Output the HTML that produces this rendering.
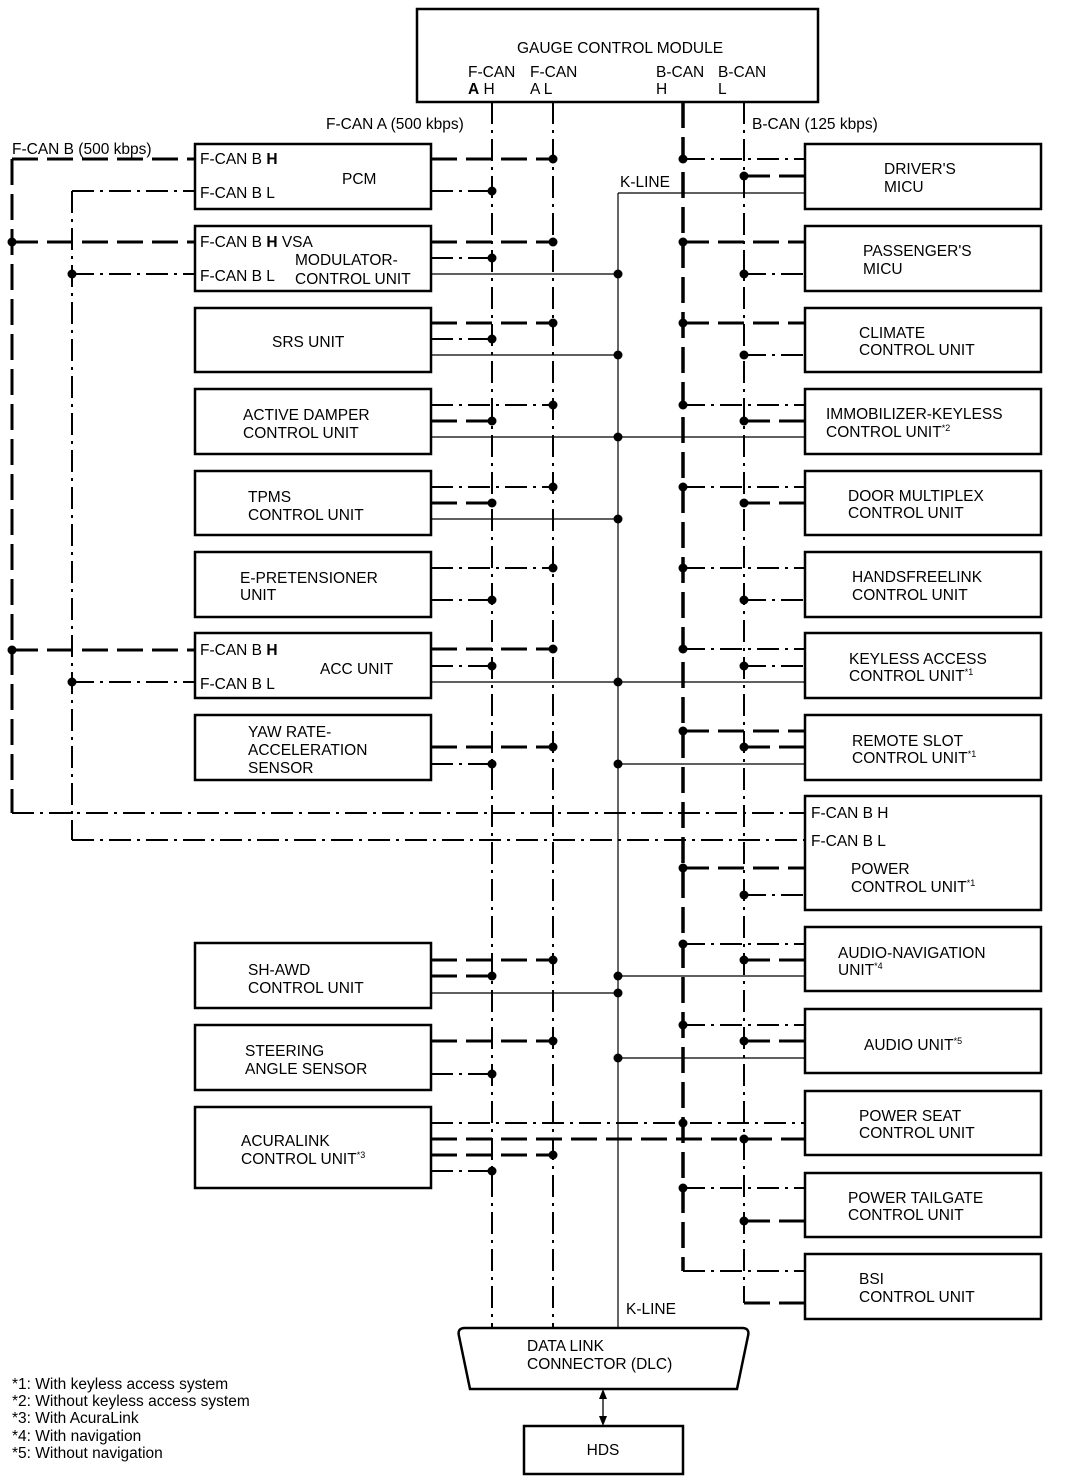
<!DOCTYPE html>
<html><head><meta charset="utf-8"><style>
html,body{margin:0;padding:0;background:#fff}
svg{display:block}
text{font-family:"Liberation Sans",sans-serif;font-size:15.5px;fill:#000}
.b{fill:none;stroke:#000;stroke-width:2.5}
.h{stroke:#000;stroke-width:3;stroke-dasharray:26 9;fill:none}
.l{stroke:#000;stroke-width:2;stroke-dasharray:22 6 3 6;fill:none}
.k{stroke:#000;stroke-width:1.2;fill:none}
</style></head><body>
<svg width="1072" height="1482" viewBox="0 0 1072 1482" xmlns="http://www.w3.org/2000/svg">
<!-- Gauge control module -->
<rect class="b" x="417" y="9" width="401" height="93"/>
<text x="620" y="53" text-anchor="middle">GAUGE CONTROL MODULE</text>
<text x="468" y="77">F-CAN</text><text x="468" y="94"><tspan font-weight="bold">A</tspan> H</text>
<text x="530" y="77">F-CAN</text><text x="530" y="94">A L</text>
<text x="656" y="77">B-CAN</text><text x="656" y="94">H</text>
<text x="718" y="77">B-CAN</text><text x="718" y="94">L</text>
<text x="326" y="129">F-CAN A (500 kbps)</text>
<text x="752" y="129">B-CAN (125 kbps)</text>
<text x="12" y="154">F-CAN B (500 kbps)</text>
<text x="620" y="187">K-LINE</text>
<text x="626" y="1314">K-LINE</text>

<!-- vertical buses -->
<line class="l" x1="492" y1="102" x2="492" y2="1328"/>
<line class="l" x1="553" y1="102" x2="553" y2="1328"/>
<line class="h" x1="683" y1="102" x2="683" y2="1271" style="stroke-width:3.5"/>
<line class="l" x1="744" y1="102" x2="744" y2="1303"/>
<line class="k" x1="618" y1="193" x2="618" y2="1328"/>
<line class="h" x1="12" y1="159" x2="12" y2="813"/>
<line class="l" x1="72" y1="191" x2="72" y2="840"/>

<!-- F-CAN B lines -->
<line class="h" x1="12" y1="159" x2="195" y2="159"/>
<line class="l" x1="72" y1="191" x2="195" y2="191"/>
<line class="h" x1="12" y1="242" x2="195" y2="242"/>
<line class="l" x1="72" y1="274" x2="195" y2="274"/>
<line class="h" x1="12" y1="650" x2="195" y2="650"/>
<line class="l" x1="72" y1="682" x2="195" y2="682"/>
<line class="l" x1="12" y1="813" x2="805" y2="813"/>
<line class="l" x1="72" y1="840" x2="805" y2="840"/>

<!-- left horizontals -->
<g>
<line class="h" x1="431" y1="159" x2="553" y2="159"/>
<line class="l" x1="431" y1="191" x2="492" y2="191"/>
<line class="h" x1="431" y1="242" x2="553" y2="242"/>
<line class="l" x1="431" y1="258" x2="492" y2="258"/>
<line class="k" x1="431" y1="274" x2="618" y2="274"/>
<line class="h" x1="431" y1="323" x2="553" y2="323"/>
<line class="l" x1="431" y1="339" x2="492" y2="339"/>
<line class="k" x1="431" y1="355" x2="618" y2="355"/>
<line class="l" x1="431" y1="405" x2="553" y2="405"/>
<line class="h" x1="431" y1="421" x2="492" y2="421"/>
<line class="k" x1="431" y1="437" x2="805" y2="437"/>
<line class="l" x1="431" y1="487" x2="553" y2="487"/>
<line class="h" x1="431" y1="503" x2="492" y2="503"/>
<line class="k" x1="431" y1="519" x2="618" y2="519"/>
<line class="l" x1="431" y1="568" x2="553" y2="568"/>
<line class="l" x1="431" y1="600" x2="492" y2="600"/>
<line class="h" x1="431" y1="649" x2="553" y2="649"/>
<line class="l" x1="431" y1="666" x2="492" y2="666"/>
<line class="k" x1="431" y1="682" x2="805" y2="682"/>
<line class="h" x1="431" y1="747" x2="553" y2="747"/>
<line class="l" x1="431" y1="764" x2="492" y2="764"/>
<line class="h" x1="431" y1="960" x2="553" y2="960"/>
<line class="h" x1="431" y1="976" x2="492" y2="976"/>
<line class="k" x1="431" y1="993" x2="618" y2="993"/>
<line class="h" x1="431" y1="1041" x2="553" y2="1041"/>
<line class="l" x1="431" y1="1074" x2="492" y2="1074"/>
<line class="l" x1="431" y1="1123" x2="805" y2="1123"/>
<line class="h" x1="431" y1="1139" x2="805" y2="1139"/>
<line class="h" x1="431" y1="1155" x2="553" y2="1155"/>
<line class="l" x1="431" y1="1171" x2="492" y2="1171"/>
</g>
<!-- right horizontals -->
<g>
<line class="l" x1="683" y1="159" x2="805" y2="159"/>
<line class="h" x1="744" y1="176" x2="805" y2="176"/>
<line class="k" x1="618" y1="193" x2="805" y2="193"/>
<line class="h" x1="683" y1="242" x2="805" y2="242"/>
<line class="l" x1="744" y1="274" x2="805" y2="274"/>
<line class="h" x1="683" y1="323" x2="805" y2="323"/>
<line class="l" x1="744" y1="355" x2="805" y2="355"/>
<line class="l" x1="683" y1="405" x2="805" y2="405"/>
<line class="h" x1="744" y1="421" x2="805" y2="421"/>
<line class="l" x1="683" y1="487" x2="805" y2="487"/>
<line class="h" x1="744" y1="503" x2="805" y2="503"/>
<line class="l" x1="683" y1="568" x2="805" y2="568"/>
<line class="l" x1="744" y1="600" x2="805" y2="600"/>
<line class="l" x1="683" y1="649" x2="805" y2="649"/>
<line class="l" x1="744" y1="666" x2="805" y2="666"/>
<line class="h" x1="683" y1="731" x2="805" y2="731"/>
<line class="h" x1="744" y1="747" x2="805" y2="747"/>
<line class="k" x1="618" y1="764" x2="805" y2="764"/>
<line class="h" x1="683" y1="868" x2="805" y2="868"/>
<line class="l" x1="744" y1="895" x2="805" y2="895"/>
<line class="l" x1="683" y1="944" x2="805" y2="944"/>
<line class="h" x1="744" y1="960" x2="805" y2="960"/>
<line class="k" x1="618" y1="976" x2="805" y2="976"/>
<line class="l" x1="683" y1="1025" x2="805" y2="1025"/>
<line class="h" x1="744" y1="1041" x2="805" y2="1041"/>
<line class="k" x1="618" y1="1058" x2="805" y2="1058"/>
<line class="l" x1="683" y1="1188" x2="805" y2="1188"/>
<line class="h" x1="744" y1="1221" x2="805" y2="1221"/>
<line class="l" x1="683" y1="1271" x2="805" y2="1271"/>
<line class="h" x1="744" y1="1303" x2="805" y2="1303"/>
</g>
<!-- dots -->
<g fill="#000">
<circle cx="12" cy="242" r="4.5"/><circle cx="12" cy="650" r="4.5"/>
<circle cx="72" cy="274" r="4.5"/><circle cx="72" cy="682" r="4.5"/>
<circle cx="553" cy="159" r="4.5"/><circle cx="492" cy="191" r="4.5"/>
<circle cx="553" cy="242" r="4.5"/><circle cx="492" cy="258" r="4.5"/><circle cx="618" cy="274" r="4.5"/>
<circle cx="553" cy="323" r="4.5"/><circle cx="492" cy="339" r="4.5"/><circle cx="618" cy="355" r="4.5"/>
<circle cx="553" cy="405" r="4.5"/><circle cx="492" cy="421" r="4.5"/><circle cx="618" cy="437" r="4.5"/>
<circle cx="553" cy="487" r="4.5"/><circle cx="492" cy="503" r="4.5"/><circle cx="618" cy="519" r="4.5"/>
<circle cx="553" cy="568" r="4.5"/><circle cx="492" cy="600" r="4.5"/>
<circle cx="553" cy="649" r="4.5"/><circle cx="492" cy="666" r="4.5"/><circle cx="618" cy="682" r="4.5"/>
<circle cx="553" cy="747" r="4.5"/><circle cx="492" cy="764" r="4.5"/><circle cx="618" cy="764" r="4.5"/>
<circle cx="553" cy="960" r="4.5"/><circle cx="492" cy="976" r="4.5"/><circle cx="618" cy="993" r="4.5"/><circle cx="618" cy="976" r="4.5"/>
<circle cx="553" cy="1041" r="4.5"/><circle cx="492" cy="1074" r="4.5"/><circle cx="618" cy="1058" r="4.5"/>
<circle cx="683" cy="1123" r="4.5"/><circle cx="744" cy="1139" r="4.5"/><circle cx="553" cy="1155" r="4.5"/><circle cx="492" cy="1171" r="4.5"/>
<circle cx="683" cy="159" r="4.5"/><circle cx="744" cy="176" r="4.5"/>
<circle cx="683" cy="242" r="4.5"/><circle cx="744" cy="274" r="4.5"/>
<circle cx="683" cy="323" r="4.5"/><circle cx="744" cy="355" r="4.5"/>
<circle cx="683" cy="405" r="4.5"/><circle cx="744" cy="421" r="4.5"/>
<circle cx="683" cy="487" r="4.5"/><circle cx="744" cy="503" r="4.5"/>
<circle cx="683" cy="568" r="4.5"/><circle cx="744" cy="600" r="4.5"/>
<circle cx="683" cy="649" r="4.5"/><circle cx="744" cy="666" r="4.5"/>
<circle cx="683" cy="731" r="4.5"/><circle cx="744" cy="747" r="4.5"/>
<circle cx="683" cy="868" r="4.5"/><circle cx="744" cy="895" r="4.5"/>
<circle cx="683" cy="944" r="4.5"/><circle cx="744" cy="960" r="4.5"/>
<circle cx="683" cy="1025" r="4.5"/><circle cx="744" cy="1041" r="4.5"/>
<circle cx="683" cy="1188" r="4.5"/><circle cx="744" cy="1221" r="4.5"/>
</g>

<!-- left boxes -->
<g fill="#fff">
<rect class="b" x="195" y="144" width="236" height="65" fill="#fff"/>
<rect class="b" x="195" y="226" width="236" height="65" fill="#fff"/>
<rect class="b" x="195" y="308" width="236" height="64" fill="#fff"/>
<rect class="b" x="195" y="389" width="236" height="65" fill="#fff"/>
<rect class="b" x="195" y="471" width="236" height="64" fill="#fff"/>
<rect class="b" x="195" y="552" width="236" height="65" fill="#fff"/>
<rect class="b" x="195" y="633" width="236" height="65" fill="#fff"/>
<rect class="b" x="195" y="715" width="236" height="65" fill="#fff"/>
<rect class="b" x="195" y="943" width="236" height="65" fill="#fff"/>
<rect class="b" x="195" y="1025" width="236" height="65" fill="#fff"/>
<rect class="b" x="195" y="1107" width="236" height="81" fill="#fff"/>
<!-- right boxes -->
<rect class="b" x="805" y="144" width="236" height="65" fill="#fff"/>
<rect class="b" x="805" y="226" width="236" height="65" fill="#fff"/>
<rect class="b" x="805" y="308" width="236" height="64" fill="#fff"/>
<rect class="b" x="805" y="389" width="236" height="65" fill="#fff"/>
<rect class="b" x="805" y="471" width="236" height="64" fill="#fff"/>
<rect class="b" x="805" y="552" width="236" height="65" fill="#fff"/>
<rect class="b" x="805" y="633" width="236" height="65" fill="#fff"/>
<rect class="b" x="805" y="715" width="236" height="65" fill="#fff"/>
<rect class="b" x="805" y="796" width="236" height="114" fill="#fff"/>
<rect class="b" x="805" y="927" width="236" height="64" fill="#fff"/>
<rect class="b" x="805" y="1009" width="236" height="64" fill="#fff"/>
<rect class="b" x="805" y="1091" width="236" height="64" fill="#fff"/>
<rect class="b" x="805" y="1173" width="236" height="64" fill="#fff"/>
<rect class="b" x="805" y="1254" width="236" height="65" fill="#fff"/>
</g>

<!-- left texts -->
<text x="200" y="164">F-CAN B <tspan font-weight="bold">H</tspan></text>
<text x="200" y="198">F-CAN B L</text>
<text x="342" y="184">PCM</text>
<text x="200" y="247">F-CAN B <tspan font-weight="bold">H</tspan> VSA</text>
<text x="295" y="265">MODULATOR-</text>
<text x="200" y="281">F-CAN B L</text>
<text x="295" y="284">CONTROL UNIT</text>
<text x="272" y="347">SRS UNIT</text>
<text x="243" y="420">ACTIVE DAMPER</text><text x="243" y="438">CONTROL UNIT</text>
<text x="248" y="502">TPMS</text><text x="248" y="520">CONTROL UNIT</text>
<text x="240" y="583">E-PRETENSIONER</text><text x="240" y="600">UNIT</text>
<text x="200" y="655">F-CAN B <tspan font-weight="bold">H</tspan></text>
<text x="320" y="674">ACC UNIT</text>
<text x="200" y="689">F-CAN B L</text>
<text x="248" y="737">YAW RATE-</text><text x="248" y="755">ACCELERATION</text><text x="248" y="773">SENSOR</text>
<text x="248" y="975">SH-AWD</text><text x="248" y="993">CONTROL UNIT</text>
<text x="245" y="1056">STEERING</text><text x="245" y="1074">ANGLE SENSOR</text>
<text x="241" y="1146">ACURALINK</text><text x="241" y="1164">CONTROL UNIT<tspan font-size="9" dy="-6">*3</tspan></text>
<!-- right texts -->
<text x="884" y="174">DRIVER'S</text><text x="884" y="192">MICU</text>
<text x="863" y="256">PASSENGER'S</text><text x="863" y="274">MICU</text>
<text x="859" y="338">CLIMATE</text><text x="859" y="355">CONTROL UNIT</text>
<text x="826" y="419">IMMOBILIZER-KEYLESS</text><text x="826" y="437">CONTROL UNIT<tspan font-size="9" dy="-6">*2</tspan></text>
<text x="848" y="501">DOOR MULTIPLEX</text><text x="848" y="518">CONTROL UNIT</text>
<text x="852" y="582">HANDSFREELINK</text><text x="852" y="600">CONTROL UNIT</text>
<text x="849" y="664">KEYLESS ACCESS</text><text x="849" y="681">CONTROL UNIT<tspan font-size="9" dy="-6">*1</tspan></text>
<text x="852" y="746">REMOTE SLOT</text><text x="852" y="763">CONTROL UNIT<tspan font-size="9" dy="-6">*1</tspan></text>
<text x="811" y="818">F-CAN B H</text><text x="811" y="846">F-CAN B L</text>
<text x="851" y="874">POWER</text><text x="851" y="892">CONTROL UNIT<tspan font-size="9" dy="-6">*1</tspan></text>
<text x="838" y="958">AUDIO-NAVIGATION</text><text x="838" y="975">UNIT<tspan font-size="9" dy="-6">*4</tspan></text>
<text x="864" y="1050">AUDIO UNIT<tspan font-size="9" dy="-6">*5</tspan></text>
<text x="859" y="1121">POWER SEAT</text><text x="859" y="1138">CONTROL UNIT</text>
<text x="848" y="1203">POWER TAILGATE</text><text x="848" y="1220">CONTROL UNIT</text>
<text x="859" y="1284">BSI</text><text x="859" y="1302">CONTROL UNIT</text>

<!-- DLC -->
<path class="b" d="M465,1328 L742,1328 Q750,1328 748,1336 L737,1389 L470,1389 L459,1336 Q457,1328 465,1328 Z" fill="#fff"/>
<text x="527" y="1351">DATA LINK</text>
<text x="527" y="1369">CONNECTOR (DLC)</text>
<line x1="603" y1="1397" x2="603" y2="1418" stroke="#000" stroke-width="1.3"/>
<polygon points="603,1389 599,1399 607,1399" fill="#000"/>
<polygon points="603,1426 599,1416 607,1416" fill="#000"/>
<rect class="b" x="524" y="1426" width="159" height="48" fill="#fff"/>
<text x="603" y="1455" text-anchor="middle">HDS</text>

<!-- footnotes -->
<text x="12" y="1389">*1: With keyless access system</text>
<text x="12" y="1406">*2: Without keyless access system</text>
<text x="12" y="1423">*3: With AcuraLink</text>
<text x="12" y="1441">*4: With navigation</text>
<text x="12" y="1458">*5: Without navigation</text>
</svg>
</body></html>
